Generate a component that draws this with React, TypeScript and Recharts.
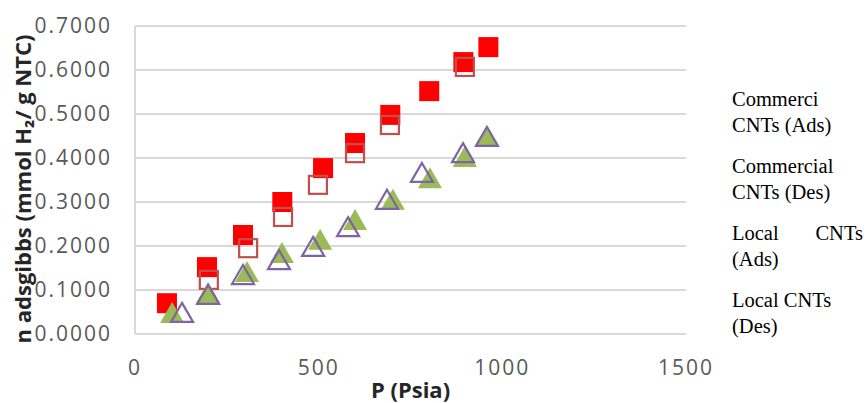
import React from 'react';
import { ScatterChart, Scatter, XAxis, YAxis, CartesianGrid } from 'recharts';

// pressure (psia) and adsorbed amount (mmol H2 / g)
const commercialAdsP = [87, 196, 294, 401, 512, 599, 695, 801, 894, 962];
const commercialAdsN = [0.07, 0.152, 0.225, 0.3, 0.377, 0.434, 0.498, 0.552, 0.618, 0.652];

const commercialDesP = [201, 308, 403, 498, 599, 694, 898];
const commercialDesN = [0.123, 0.195, 0.266, 0.339, 0.411, 0.475, 0.607];

const localAdsP = [101, 199, 305, 400, 504, 599, 702, 803, 898, 958];
const localAdsN = [0.048, 0.093, 0.141, 0.184, 0.214, 0.259, 0.305, 0.354, 0.402, 0.448];

const localDesP = [128, 199, 294, 392, 485, 580, 686, 781, 893, 958];
const localDesN = [0.048, 0.089, 0.134, 0.168, 0.198, 0.243, 0.305, 0.366, 0.411, 0.448];

const xTicks = [0, 500, 1000, 1500];
const yTicks = [0, 0.1, 0.2, 0.3, 0.4, 0.5, 0.6, 0.7];

const legendItems = [
  { text: 'Commerci CNTs (Ads)', justify: false },
  { text: 'Commercial CNTs (Des)', justify: false },
  { text: 'Local CNTs (Ads)', justify: true },
  { text: 'Local CNTs (Des)', justify: false },
];

const toPoints = (xs: number[], ys: number[]) => xs.map((x, i) => ({ x, y: ys[i] }));

const FONT = '"Open Sans", sans-serif';
const AXIS_GREY = '#595959';
const TITLE_COLOR = '#262626';

const FilledSquare = (props: any) => {
  const { cx, cy } = props;
  return <rect x={cx - 10} y={cy - 10} width={20} height={20} fill="#ff0000" />;
};

const OpenSquare = (props: any) => {
  const { cx, cy } = props;
  return <rect x={cx - 9} y={cy - 9} width={18} height={18} fill="none" stroke="#c0504d" strokeWidth={2.2} />;
};

const FilledTriangle = (props: any) => {
  const { cx, cy } = props;
  return <polygon points={`${cx},${cy - 11} ${cx + 12},${cy + 10} ${cx - 12},${cy + 10}`} fill="#9bbb59" />;
};

const OpenTriangle = (props: any) => {
  const { cx, cy } = props;
  return (
    <polygon
      points={`${cx},${cy - 10} ${cx + 11},${cy + 9} ${cx - 11},${cy + 9}`}
      fill="none"
      stroke="#8064a2"
      strokeWidth={2.2}
    />
  );
};

const YTitle = () => (
  <text
    x={22}
    y={189}
    transform="rotate(-90 22 189)"
    textAnchor="middle"
    dominantBaseline="central"
    fontFamily={FONT}
    fontWeight="bold"
    fontSize={22}
    fill={TITLE_COLOR}
  >
    n adsgibbs (mmol H₂/ g NTC)
  </text>
);

const tickStyle = { fill: AXIS_GREY, fontSize: 21, fontFamily: FONT, letterSpacing: 2 };

export default function App() {
  return (
    <div style={{ position: 'absolute', left: 0, top: 0, width: 867, height: 403, background: '#fff' }}>
      <ScatterChart width={720} height={403} margin={{ top: 26, right: 34, bottom: 0, left: 0 }}>
        <CartesianGrid vertical={false} stroke="#d9d9d9" strokeWidth={2} />
        <XAxis
          type="number"
          dataKey="x"
          domain={[0, 1500]}
          ticks={xTicks}
          axisLine={false}
          tickLine={false}
          tickSize={6}
          tickMargin={20}
          height={69}
          tick={tickStyle}
          label={{
            value: 'P (Psia)',
            position: 'insideBottom',
            offset: 5,
            fill: TITLE_COLOR,
            fontSize: 22,
            fontWeight: 'bold',
            fontFamily: FONT,
          }}
        />
        <YAxis
          type="number"
          dataKey="y"
          domain={[0, 0.7]}
          ticks={yTicks}
          width={135}
          axisLine={{ stroke: '#d9d9d9', strokeWidth: 2 }}
          tickLine={false}
          tickSize={6}
          tickMargin={17}
          tickFormatter={(v: number) => v.toFixed(4)}
          tick={tickStyle}
          label={{ content: () => <YTitle /> }}
        />
        <Scatter data={toPoints(commercialAdsP, commercialAdsN)} shape={FilledSquare} isAnimationActive={false} />
        <Scatter data={toPoints(commercialDesP, commercialDesN)} shape={OpenSquare} isAnimationActive={false} />
        <Scatter data={toPoints(localAdsP, localAdsN)} shape={FilledTriangle} isAnimationActive={false} />
        <Scatter data={toPoints(localDesP, localDesN)} shape={OpenTriangle} isAnimationActive={false} />
      </ScatterChart>
      <div
        style={{
          position: 'absolute',
          left: 732,
          top: 86,
          width: 131,
          fontFamily: '"Liberation Serif", "Times New Roman", serif',
          fontSize: 20.5,
          lineHeight: '26px',
          color: '#000',
        }}
      >
        {legendItems.map((item, i) => (
          <div
            key={i}
            style={{
              height: 52,
              marginBottom: 15,
              textAlign: item.justify ? 'justify' : 'left',
            }}
          >
            {item.text}
          </div>
        ))}
      </div>
    </div>
  );
}
